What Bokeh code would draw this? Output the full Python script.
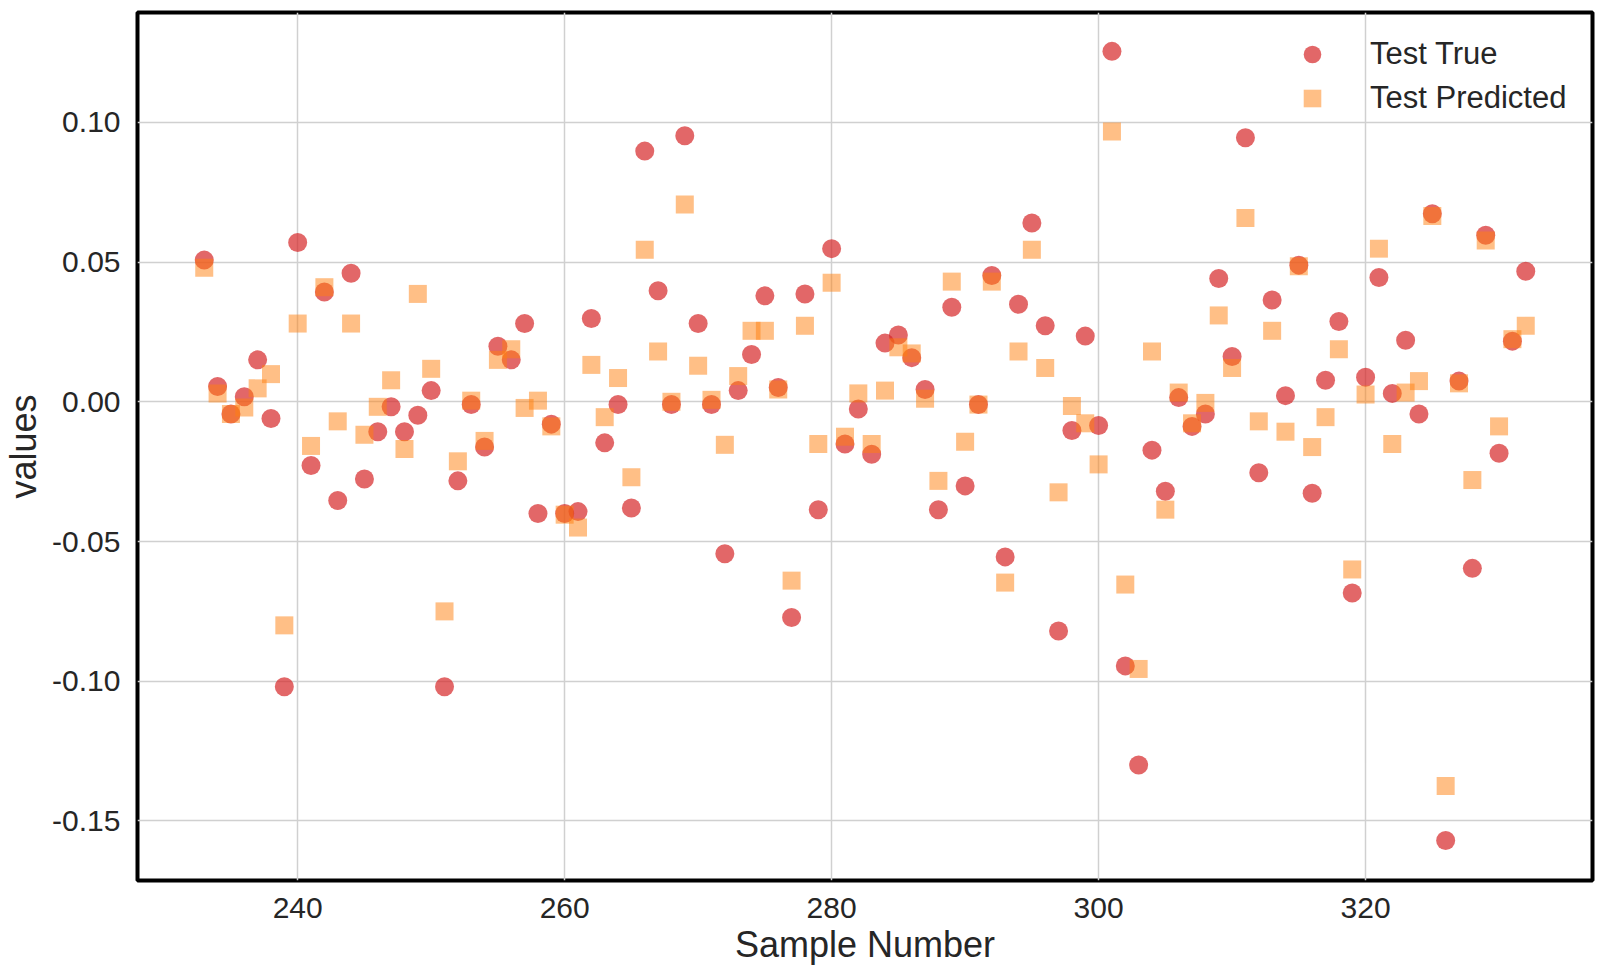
from bokeh.plotting import figure
from bokeh.models import FixedTicker, ColumnDataSource, Range1d
from bokeh.embed import file_html
from bokeh.resources import INLINE

sample = list(range(233, 333))

test_true = [
    0.0507, 0.0055, -0.0044, 0.0018, 0.0150, -0.0060, -0.1020, 0.0570, -0.0228, 0.0393,
    -0.0353, 0.0460, -0.0276, -0.0107, -0.0018, -0.0107, -0.0048, 0.0040, -0.1020, -0.0283,
    -0.0010, -0.0162, 0.0199, 0.0150, 0.0280, -0.0400, -0.0080, -0.0400, -0.0393, 0.0298,
    -0.0147, -0.0010, -0.0380, 0.0897, 0.0397, -0.0010, 0.0952, 0.0280, -0.0010, -0.0544,
    0.0040, 0.0169, 0.0379, 0.0051, -0.0772, 0.0386, -0.0386, 0.0548, -0.0151, -0.0026,
    -0.0188, 0.0210, 0.0239, 0.0158, 0.0044, -0.0386, 0.0338, -0.0301, -0.0010, 0.0452,
    -0.0555, 0.0349, 0.0640, 0.0272, -0.0820, -0.0103, 0.0235, -0.0085, 0.1254, -0.0945,
    -0.1300, -0.0173, -0.0320, 0.0015, -0.0088, -0.0044, 0.0441, 0.0162, 0.0945, -0.0254,
    0.0364, 0.0022, 0.0489, -0.0327, 0.0077, 0.0287, -0.0684, 0.0088, 0.0445, 0.0030,
    0.0220, -0.0044, 0.0673, -0.1570, 0.0074, -0.0596, 0.0596, -0.0184, 0.0217, 0.0467,
]

test_pred = [
    0.0480, 0.0030, -0.0044, -0.0020, 0.0048, 0.0099, -0.0800, 0.0280, -0.0158, 0.0410,
    -0.0070, 0.0280, -0.0118, -0.0018, 0.0077, -0.0169, 0.0386, 0.0118, -0.0750, -0.0213,
    0.0004, -0.0140, 0.0150, 0.0188, -0.0022, 0.0004, -0.0088, -0.0404, -0.0450, 0.0132,
    -0.0055, 0.0085, -0.0270, 0.0544, 0.0180, 0.0000, 0.0706, 0.0129, 0.0007, -0.0154,
    0.0092, 0.0254, 0.0254, 0.0044, -0.0640, 0.0272, -0.0151, 0.0426, -0.0125, 0.0030,
    -0.0151, 0.0040, 0.0195, 0.0173, 0.0011, -0.0283, 0.0430, -0.0143, -0.0010, 0.0430,
    -0.0647, 0.0180, 0.0544, 0.0121, -0.0324, -0.0015, -0.0077, -0.0224, 0.0967, -0.0654,
    -0.0956, 0.0180, -0.0386, 0.0033, -0.0077, -0.0004, 0.0309, 0.0121, 0.0658, -0.0070,
    0.0254, -0.0107, 0.0485, -0.0162, -0.0055, 0.0188, -0.0600, 0.0026, 0.0548, -0.0151,
    0.0033, 0.0074, 0.0665, -0.1375, 0.0066, -0.0280, 0.0577, -0.0088, 0.0224, 0.0272,
]

x_ticks = [240, 260, 280, 300, 320]
y_ticks = [-0.15, -0.10, -0.05, 0.0, 0.05, 0.10]
y_tick_labels = ["-0.15", "-0.10", "-0.05", "0.00", "0.05", "0.10"]

src = ColumnDataSource(dict(x=sample, yt=test_true, yp=test_pred))

p = figure(width=1600, height=970, output_backend="svg", toolbar_location=None,
           x_range=Range1d(228.0, 337.0), y_range=Range1d(-0.1713, 0.1393),
           min_border_left=130, min_border_right=8, min_border_top=12, min_border_bottom=90)

p.background_fill_color = "white"
p.border_fill_color = "white"
p.outline_line_color = "black"
p.outline_line_width = 4

p.scatter("x", "yt", source=src, marker="circle", size=19, fill_color="#d62728",
          fill_alpha=0.7, line_color=None, legend_label="Test True")
p.scatter("x", "yp", source=src, marker="square", size=18, fill_color="#ff7f0e",
          fill_alpha=0.5, line_color=None, legend_label="Test Predicted")

p.xaxis.ticker = FixedTicker(ticks=x_ticks)
p.yaxis.ticker = FixedTicker(ticks=y_ticks)
p.yaxis.major_label_overrides = {t: l for t, l in zip(y_ticks, y_tick_labels)}
p.xaxis.major_label_overrides = {t: str(t) for t in x_ticks}

for ax in (p.xaxis, p.yaxis):
    ax.axis_line_color = None
    ax.major_tick_line_color = None
    ax.minor_tick_line_color = None
    ax.major_label_text_font = "Liberation Sans"
    ax.major_label_text_font_size = "30px"
    ax.major_label_text_color = "#262626"
    ax.axis_label_text_font = "Liberation Sans"
    ax.axis_label_text_font_size = "36px"
    ax.axis_label_text_font_style = "normal"
    ax.axis_label_text_color = "#262626"

p.xaxis.axis_label = "Sample Number"
p.yaxis.axis_label = "values"
p.xaxis.major_label_standoff = 11
p.yaxis.major_label_standoff = 11
p.xaxis.axis_label_standoff = 3
p.yaxis.axis_label_standoff = 5

p.xgrid.grid_line_color = "#d0d0d0"
p.ygrid.grid_line_color = "#d0d0d0"
p.xgrid.grid_line_width = 1.5
p.ygrid.grid_line_width = 1.5

p.legend.location = "top_right"
p.legend.border_line_color = None
p.legend.background_fill_alpha = 0
p.legend.label_text_font = "Liberation Sans"
p.legend.label_text_font_size = "31px"
p.legend.label_text_color = "#262626"
p.legend.glyph_width = 46
p.legend.glyph_height = 44
p.legend.label_height = 30
p.legend.label_width = 202
p.legend.label_standoff = 35
p.legend.spacing = 0
p.legend.margin = 20
p.legend.padding = 15

open("out.html", "w").write(file_html(p, INLINE))
